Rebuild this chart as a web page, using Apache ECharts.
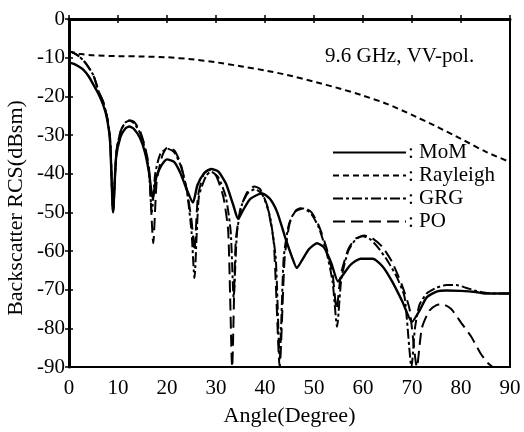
<!DOCTYPE html>
<html lang="en">
<head>
    <meta charset="UTF-8">
    <title>RCS</title>
    <style>
        html, body { margin: 0; padding: 0; background: #fff; }
        #chart { width: 524px; height: 432px; }
    </style>
</head>
<body>
    <div id="chart"></div>
    <script src="https://cdn.jsdelivr.net/npm/echarts@6/dist/echarts.min.js"></script>
    <script>
        // 读图得到的数据 (角度 / dBsm)
        var xTicks = [0, 10, 20, 30, 40, 50, 60, 70, 80, 90];
        var yTicks = [0, -10, -20, -30, -40, -50, -60, -70, -80, -90];

        var momAngle = [0, 1, 2, 3, 4, 5, 6, 7, 7.8, 8.4, 9, 9.6, 10.5, 11.5, 12.3, 13.3, 14.5, 15.5, 16.3, 17.1,
            17.8, 18.8, 20, 21.5, 22.8, 24, 25.3, 26.2, 27.5, 29, 30.5, 32, 33.5, 34.5, 35.5, 37, 39.4, 41, 42.5,
            44, 45.5, 46.5, 47.5, 49, 50.6, 52, 53.5, 54.9, 56, 57.5, 59.5, 62, 64, 66, 68, 70, 71.5, 73, 75, 77,
            80, 83, 85, 90];
        var momRcs = [-11.3, -11.6, -12.3, -13.2, -14.8, -17, -19.3, -22.3, -26, -32, -50, -36, -30.5, -28.3, -27.8, -28.5, -30.8, -34.5, -39.5, -46.5,
            -41, -38, -36.3, -37, -40, -44, -47.5, -43, -40, -38.8, -39.5, -42.5, -48, -51.7, -49.5, -46.5, -45.1, -46.5, -50,
            -56, -61.5, -64.4, -62.5, -59.5, -58, -59, -63, -67.9, -66, -63.5, -62, -62, -64, -68, -73, -78.3, -75.5, -72, -70.5, -70.2,
            -70.3, -70.6, -71, -71];

        var rayAngle = [0, 2, 5, 10, 15, 20, 25, 30, 35, 40, 45, 50, 55, 60, 65, 70, 75, 80, 85, 90];
        var rayRcs = [-8.3, -9, -9.4, -9.6, -9.7, -9.9, -10.4, -11.2, -12.2, -13.3, -14.6, -16.2, -17.9, -19.8, -22, -24.8, -27.8, -31, -34.3, -37];

        var grgAngle = [0, 1, 2, 3, 4, 5, 6, 7, 7.8, 8.4, 9, 9.7, 10.6, 11.5, 12.3, 13.3, 14.5, 15.5, 16.3, 16.9,
            17.6, 18.6, 20, 21.5, 22.8, 24, 25, 25.6, 26.5, 28, 29, 30.5, 32, 33, 33.6, 34.3, 35.3, 36.5, 38, 39.5,
            41, 42.2, 43, 43.8, 44.8, 46, 47.8, 49.5, 51, 52.5, 53.8, 54.7, 55.6, 57, 58.5, 60, 61.5, 63, 65, 67,
            68.5, 69.9, 70.6, 71.5, 73, 75, 77, 79, 81, 83, 85, 87, 90];
        var grgRcs = [-8.3, -8.8, -9.6, -10.8, -12.5, -14.6, -18.5, -21.5, -25.5, -31, -50, -34, -28.8, -26.8, -26.3, -27, -29.5, -33.5, -39, -50,
            -40, -35, -33.5, -34.5, -38, -44, -55, -67, -46, -40.5, -39.5, -41, -46, -55, -72, -55, -48, -45, -44, -45.5,
            -51, -62, -88, -62, -53.5, -50, -49, -50.5, -54, -60, -68, -79.6, -67, -60, -57, -56.2, -57, -59, -62.5, -67,
            -72, -90, -80, -74, -71, -69.5, -68.8, -68.8, -69.5, -70.3, -70.8, -71, -71];

        var poAngle = [0, 1, 2, 3, 4, 5, 6, 7, 7.8, 8.4, 9, 9.7, 10.6, 11.5, 12.3, 13.3, 14.5, 15.5, 16.3, 17.2,
            17.9, 19, 20, 21.5, 22.8, 24, 25, 25.6, 26.3, 27.5, 28.5, 30, 31.5, 32.5, 33.3, 34, 35, 36.5, 37.8, 39,
            40.5, 41.8, 43, 44, 45, 46.3, 47.8, 49.5, 51, 52.5, 53.8, 54.6, 55.5, 57, 58.5, 60.3, 62, 64, 66, 68,
            69.5, 71, 72, 73.5, 75, 76.3, 78, 80, 82, 84, 85.5, 86.5];
        var poRcs = [-8.3, -8.8, -9.6, -10.8, -12.5, -14.6, -18.5, -21.5, -25.5, -31, -50, -34, -28.8, -26.8, -26.2, -26.6, -29, -33, -38, -58,
            -42, -35.5, -33.3, -34, -37.5, -44, -52, -60, -46, -40, -39, -40.5, -46, -55, -90, -58, -49, -44.5, -43.3, -44,
            -48.5, -58, -90, -62, -53, -49.5, -48.8, -50, -53.5, -59, -66, -75, -66, -59.5, -56.8, -56, -56.8, -59, -63, -69,
            -75, -90, -80, -75.5, -74, -73.8, -75, -78.5, -82, -86.5, -89, -90];

        function pairs(xs, ys) {
            return xs.map(function (x, i) { return [x, ys[i]]; });
        }

        var font = "'Liberation Serif', 'Times New Roman', serif";
        var chart = echarts.init(document.getElementById('chart'));

        var hiddenAxis = {
            axisLine: { show: false },
            axisLabel: { show: false },
            splitLine: { show: false },
            axisTick: { show: true, inside: true, length: 4, lineStyle: { color: '#000', width: 1.5 } }
        };

        var option = {
            backgroundColor: '#fff',
            animation: false,
            grid: {
                left: 69, right: 14, top: 19, bottom: 58,
                show: true, borderColor: '#000', borderWidth: 2
            },
            xAxis: [
                {
                    type: 'value', min: 0, max: 90, interval: 10,
                    name: 'Angle(Degree)', nameLocation: 'middle', nameGap: 38,
                    nameTextStyle: { fontFamily: font, fontSize: 22, color: '#000' },
                    axisLine: { show: true, lineStyle: { color: '#000', width: 3 } },
                    axisTick: { inside: true, length: 4, lineStyle: { color: '#000', width: 1.5 } },
                    axisLabel: {
                        margin: 11, fontFamily: font, fontSize: 21, color: '#000',
                        formatter: function (v) { return xTicks.indexOf(v) >= 0 ? String(v) : ''; }
                    },
                    splitLine: { show: false }
                },
                Object.assign({ type: 'value', min: 0, max: 90, interval: 10, position: 'top' }, hiddenAxis)
            ],
            yAxis: [
                {
                    type: 'value', min: -90, max: 0, interval: 10,
                    axisLine: { show: true, lineStyle: { color: '#000', width: 3 } },
                    axisTick: { inside: true, length: 4, lineStyle: { color: '#000', width: 1.5 } },
                    axisLabel: {
                        margin: 4, fontFamily: font, fontSize: 21, color: '#000',
                        formatter: function (v) { return yTicks.indexOf(v) >= 0 ? String(v) : ''; }
                    },
                    splitLine: { show: false }
                },
                Object.assign({ type: 'value', min: -90, max: 0, interval: 10, position: 'right' }, hiddenAxis)
            ],
            legend: {
                orient: 'vertical',
                left: 332, top: 142,
                padding: 0,
                itemWidth: 73, itemHeight: 14, itemGap: 2,
                itemStyle: { opacity: 0 },
                formatter: ': {name}',
                textStyle: { fontFamily: font, fontSize: 21, color: '#000', lineHeight: 21, padding: [0, 0, 0, -3] },
                data: ['MoM', 'Rayleigh', 'GRG', 'PO']
            },
            graphic: [
                {
                    type: 'text', x: 16, y: 208, rotation: Math.PI / 2,
                    style: {
                        text: 'Backscatter RCS(dBsm)', fill: '#000',
                        font: '22px ' + font, align: 'center', verticalAlign: 'middle'
                    }
                },
                {
                    type: 'text', x: 325, y: 56,
                    style: {
                        text: '9.6 GHz, VV-pol.', fill: '#000',
                        font: '21px ' + font, align: 'left', verticalAlign: 'middle'
                    }
                }
            ],
            series: [
                {
                    name: 'MoM', type: 'line', symbol: 'none', smooth: 0.2,
                    lineStyle: { color: '#000', width: 2.4, type: 'solid' },
                    itemStyle: { color: '#000' },
                    data: pairs(momAngle, momRcs)
                },
                {
                    name: 'Rayleigh', type: 'line', symbol: 'none', smooth: 0.2,
                    lineStyle: { color: '#000', width: 2, type: [6, 4] },
                    itemStyle: { color: '#000' },
                    data: pairs(rayAngle, rayRcs)
                },
                {
                    name: 'GRG', type: 'line', symbol: 'none', smooth: 0.2,
                    lineStyle: { color: '#000', width: 2, type: [10, 3, 3, 3] },
                    itemStyle: { color: '#000' },
                    data: pairs(grgAngle, grgRcs)
                },
                {
                    name: 'PO', type: 'line', symbol: 'none', smooth: 0.2,
                    lineStyle: { color: '#000', width: 2, type: [12, 6] },
                    itemStyle: { color: '#000' },
                    data: pairs(poAngle, poRcs)
                }
            ]
        };
        chart.setOption(option);
    </script>
</body>
</html>
